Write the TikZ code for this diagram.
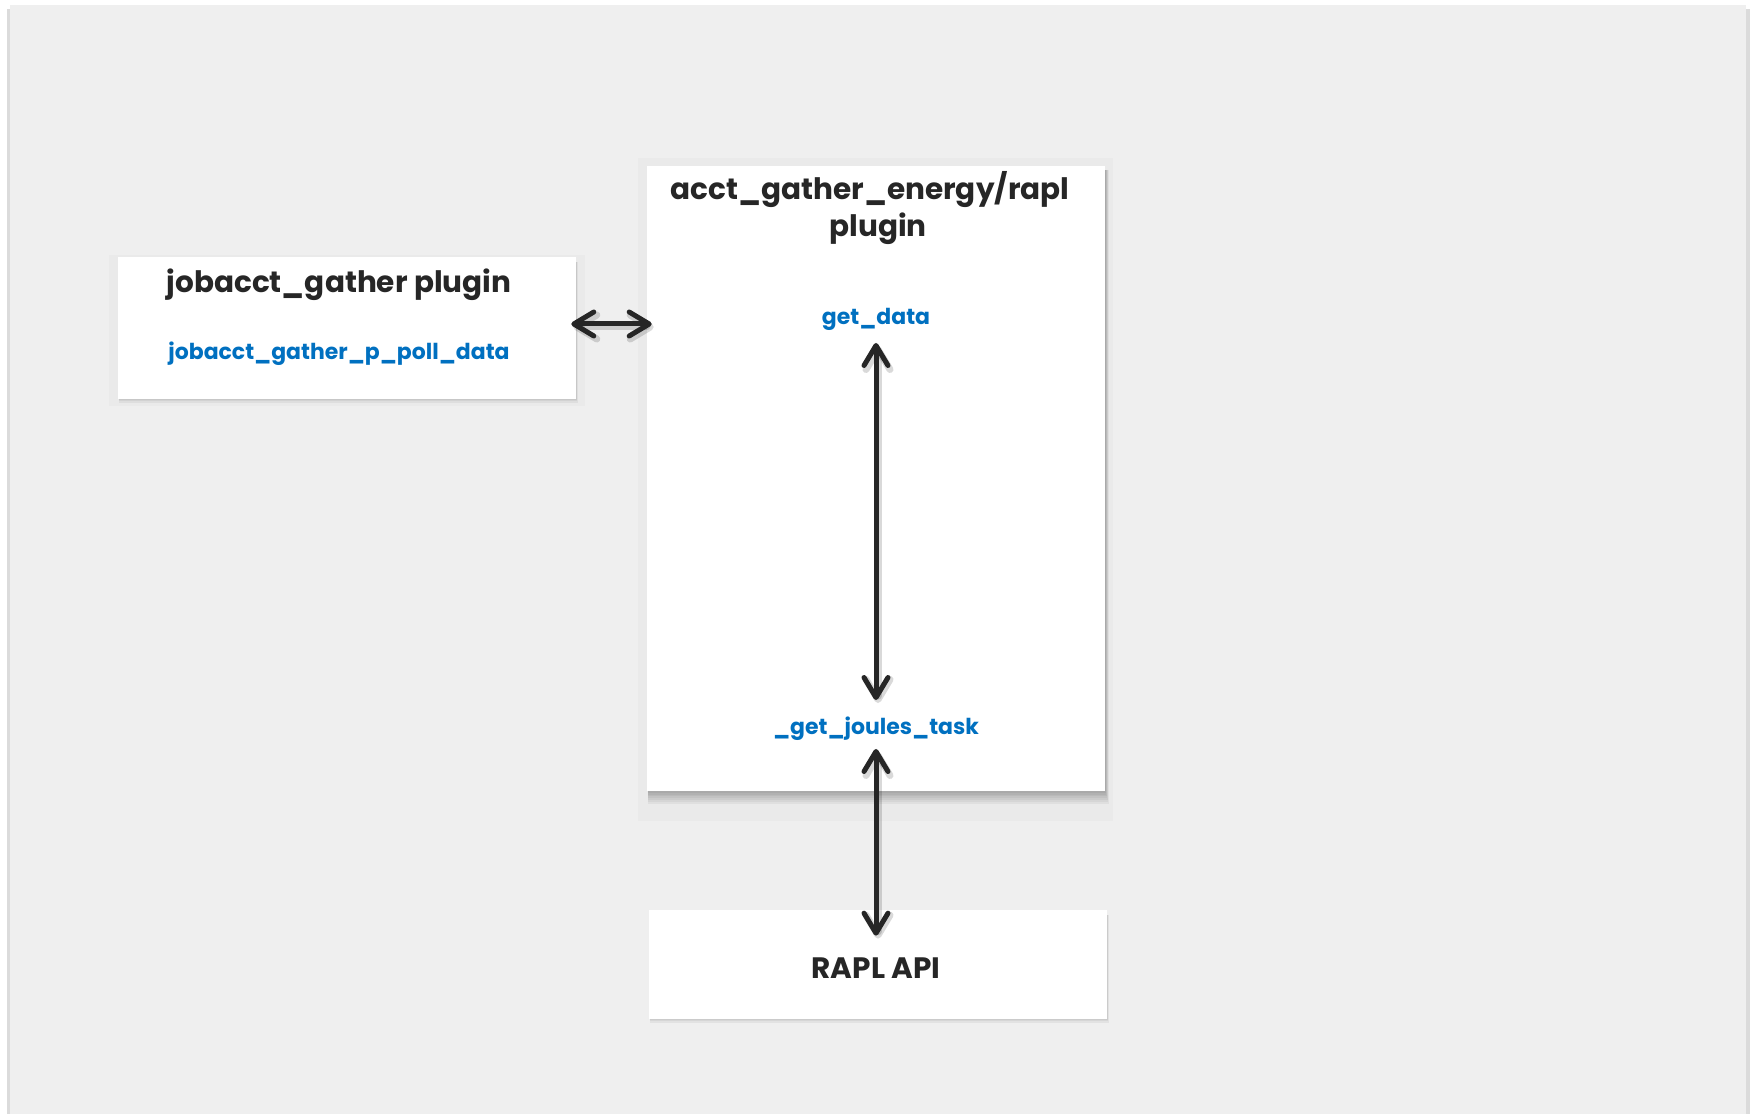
\documentclass[tikz,border=0pt]{standalone}
\usepackage{fontspec}
\setmainfont{Poppins}
\usetikzlibrary{arrows.meta}
\definecolor{bgpanel}{HTML}{EFEFEF}
\definecolor{containercol}{HTML}{EAEAEA}
\definecolor{darktext}{HTML}{262626}
\definecolor{bluetext}{HTML}{0070C0}
\definecolor{arrowcol}{HTML}{262626}
\begin{document}
\begin{tikzpicture}[x=0.02cm, y=-0.02cm,
  box/.style={draw=none, fill=white, inner sep=0pt, rectangle},
  titletext/.style={font=\bfseries\fontsize{16.8pt}{20pt}\selectfont, text=darktext, inner sep=0pt, anchor=base},
  functext/.style={font=\bfseries\fontsize{12.5pt}{15pt}\selectfont, text=bluetext, inner sep=0pt, anchor=base},
  link/.style={draw=arrowcol, line width=0.1cm, line cap=round, line join=round,
    >={Straight Barb[round, length=0.4cm, width=0.48cm]}, <->},
  linkshadow/.style={link, draw=black, opacity=0.15, line width=0.14cm}
]
\useasboundingbox (0,0) rectangle (1752,1114);
\fill[white] (0,0) rectangle (1752,1114);
% panel
\fill[black!14] (7,9) rectangle (1750,1114);
\fill[bgpanel] (10,5) rectangle (1746,1114);
% containers
\fill[containercol] (109,255) rectangle (585,406);
\fill[containercol] (638,158) rectangle (1113,821);
% box shadows
\foreach \i in {0,...,7} {
  \fill[black, opacity=0.045] (648,170) rectangle (1105+\i*0.5,791+\i*1.8);
}
\foreach \i in {0,...,3} {
  \fill[black, opacity=0.05] (119,262) rectangle (576+\i*0.5,399+\i*1.2);
  \fill[black, opacity=0.05] (650,915) rectangle (1107+\i*0.5,1019+\i*1.2);
}
% boxes
\node[box, minimum width=9.16cm, minimum height=12.5cm] (acct) at (876,478.5) {};
\node[box, minimum width=9.16cm, minimum height=2.84cm] (job) at (347,328) {};
\node[box, minimum width=9.16cm, minimum height=2.18cm] (rapl) at (878,964.5) {};
% texts
\node[titletext] (acctt1) at (870,200) {acct\_gather\_energy/rapl};
\node[titletext] (acctt2) at (878,237) {plugin};
\node[titletext] (jobt) at (339,293) {jobacct\_gather plugin};
\node[functext] (poll) at (339,360) {jobacct\_gather\_p\_poll\_data};
\node[functext] (getdata) at (876,325) {get\_data};
\node[functext] (joules) at (876,734) {\_get\_joules\_task};
\node[titletext] (raplt) at (876,978) {RAPL API};
% connectors
\coordinate (hy) at (0,324);
\begin{scope}[transform canvas={xshift=0.04cm, yshift=-0.06cm}]
  \draw[linkshadow, shorten <=-0.1cm, shorten >=-0.1cm] (job.east |- hy) -- (acct.west |- hy);
  \draw[linkshadow] ([yshift=-0.36cm]getdata.base) -- ([yshift=0.68cm]joules.base);
  \draw[linkshadow] ([yshift=-0.3cm]joules.base) -- ([yshift=-0.52cm]joules.base |- rapl.north);
\end{scope}
\draw[link, shorten <=-0.1cm, shorten >=-0.1cm] (job.east |- hy) -- (acct.west |- hy);
\draw[link] ([yshift=-0.36cm]getdata.base) -- ([yshift=0.68cm]joules.base);
\draw[link] ([yshift=-0.3cm]joules.base) -- ([yshift=-0.52cm]joules.base |- rapl.north);
\end{tikzpicture}
\end{document}
